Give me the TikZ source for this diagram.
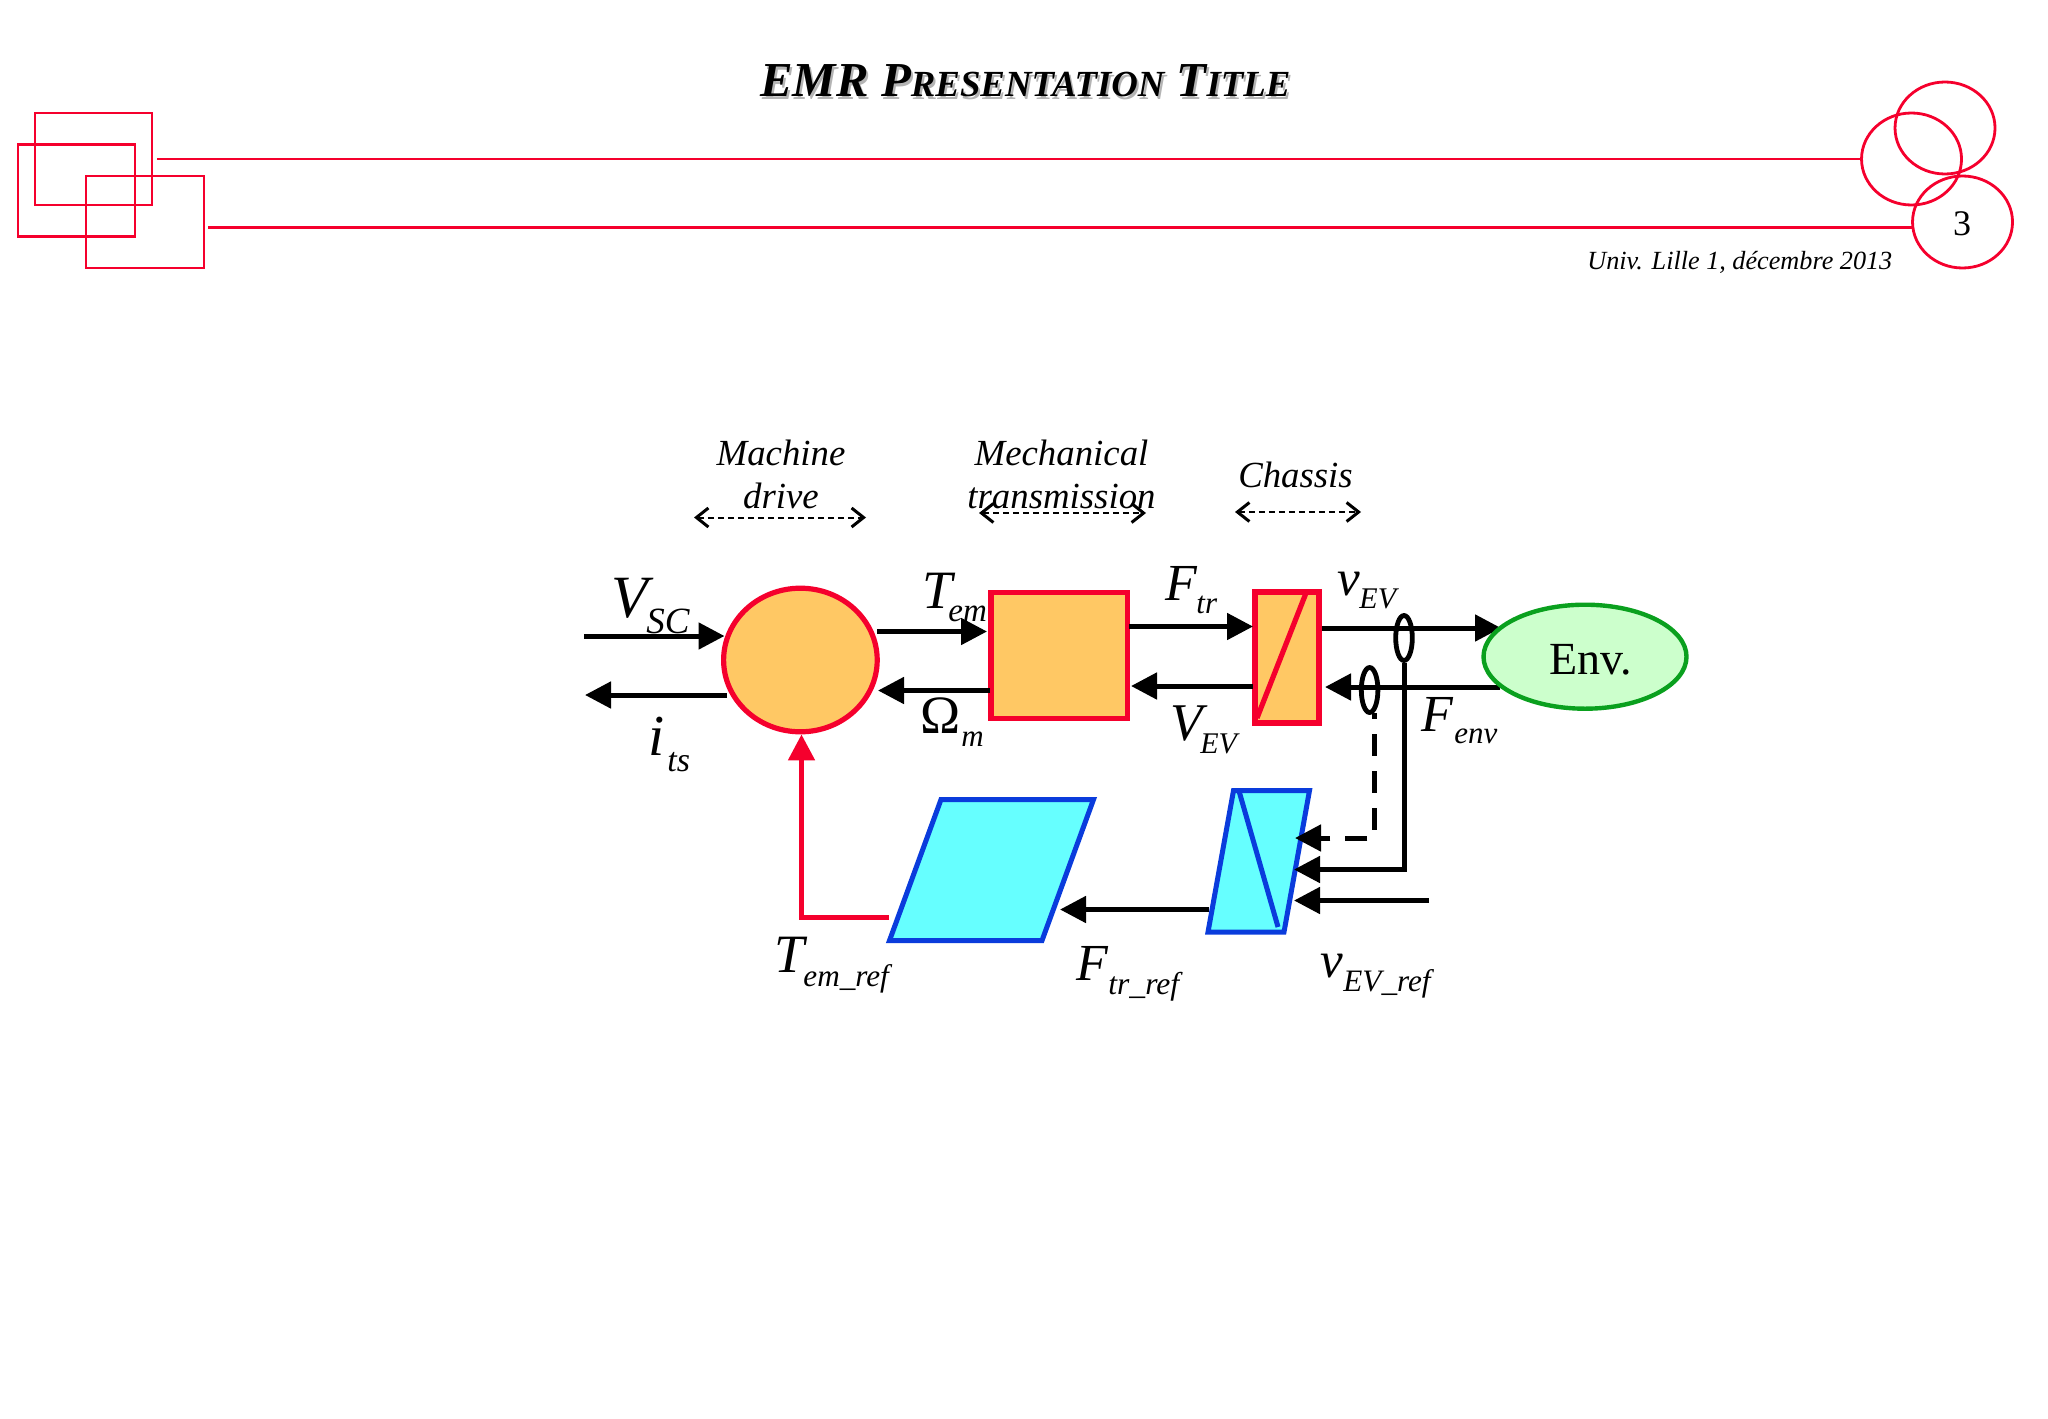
\documentclass[tikz,border=0pt]{standalone}
\usepackage{fontspec}
\setmainfont{Liberation Serif}
\usetikzlibrary{arrows.meta,shapes.geometric}
\definecolor{emrred}{HTML}{F5002D}
\definecolor{emrorange}{HTML}{FFC864}
\definecolor{emrblue}{HTML}{0A3CDC}
\definecolor{emrcyan}{HTML}{66FFFF}
\definecolor{emrgreen}{HTML}{0AA01E}
\definecolor{emrlight}{HTML}{CCFFCC}
\definecolor{emrshadow}{HTML}{B4B4B4}
\tikzset{
  frameline/.style={draw=emrred,line width=1.4pt},
  powerblock/.style={draw=emrred,fill=emrorange,line width=2.6pt,inner sep=0pt},
  ctrlblock/.style={draw=emrblue,fill=emrcyan,line width=2.5pt,line join=miter},
  flow/.style={draw=black,line width=2.5pt,-{Triangle[length=13pt,width=13pt]}},
  redflow/.style={draw=emrred,line width=2.5pt,-{Triangle[length=13pt,width=13pt]}},
  spanarrow/.style={draw=black,line width=1pt,dash pattern=on 3pt off 2pt,{Straight Barb[length=6pt,width=9.5pt,line width=1.5pt]}-{Straight Barb[length=6pt,width=9.5pt,line width=1.5pt]}},
  sensor/.style={draw=black,line width=2.4pt,ellipse,inner sep=0pt,minimum width=8.3pt,minimum height=22.5pt},
  lbl/.style={inner sep=0pt,anchor=base west},
  capt/.style={inner sep=0pt,anchor=base,font=\fontsize{18.4pt}{20pt}\selectfont\itshape},
}
% name, x, y, big size (pt), big text, sub size (pt), sub text, sub dx (pt), sub drop (pt)
\newcommand\sublab[9]{\node[lbl] (#1) at (#2,#3) {\itshape\fontsize{#4pt}{#4pt}\selectfont\rlap{#5}\hspace*{#8pt}\raisebox{-#9pt}{\fontsize{#6pt}{#6pt}\selectfont #7}};}
\newcommand\emrtitle{\itshape\bfseries\fontsize{24.4pt}{24pt}\selectfont EMR P{\fontsize{18.4pt}{18pt}\selectfont RESENTATION} T{\fontsize{18.4pt}{18pt}\selectfont ITLE}}
\begin{document}
\begin{tikzpicture}[x=.5pt,y=-.5pt]
\useasboundingbox (0,0) rectangle (2048,1418);
% --- page frame
\node[frameline,rectangle,inner sep=0pt,minimum width=58.5pt,minimum height=46pt] (ra) at (93.5,159) {};
\node[frameline,rectangle,inner sep=0pt,minimum width=58.5pt,minimum height=46pt] (rb) at (76.5,190.5) {};
\node[frameline,rectangle,inner sep=0pt,minimum width=59pt,minimum height=46pt] (rc) at (145,222) {};
\node[frameline,ellipse,inner sep=0pt,minimum width=50pt,minimum height=46pt] (ca) at (1945,128) {};
\node[frameline,ellipse,inner sep=0pt,minimum width=50pt,minimum height=46pt] (cb) at (1911.5,159) {};
\node[frameline,ellipse,inner sep=0pt,minimum width=50pt,minimum height=46pt] (cc) at (1962.5,222) {};
\coordinate (l1s) at (157,159);
\coordinate (l2s) at (208,227.5);
\draw[frameline] (l1s) -- (cb.west |- l1s);
\draw[frameline] (l2s) -- (1912,227.5);
\node[inner sep=0pt,font=\fontsize{18pt}{18pt}\selectfont] (pagenum) at (1962,224) {3};
\node[lbl,font=\fontsize{13.1pt}{13pt}\selectfont\itshape] (univ) at (1587,269) {Univ. Lille 1, décembre 2013};
\node[lbl,text=emrshadow] (titleshadow) at (762,99) {\emrtitle};
\node[lbl] (title) at (760,97) {\emrtitle};
% --- captions
\node[capt] (cap1) at (781,465) {Machine};
\node[capt] (cap2) at (781,508) {drive};
\node[capt] (cap3) at (1061.5,465) {Mechanical};
\node[capt] (cap4) at (1061.5,508) {transmission};
\node[capt] (cap5) at (1295.5,487) {Chassis};
\coordinate (d1a) at (694,517.5); \coordinate (d1b) at (866,517.5);
\coordinate (d2a) at (979,513);   \coordinate (d2b) at (1146,513);
\coordinate (d3a) at (1235,512);  \coordinate (d3b) at (1361,512);
\draw[spanarrow] (d1a) -- (d1b);
\draw[spanarrow] (d2a) -- (d2b);
\draw[spanarrow] (d3a) -- (d3b);
% --- power blocks
\node[powerblock,ellipse,minimum width=76.8pt,minimum height=71.8pt] (conv) at (800.4,660) {};
\node[powerblock,rectangle,minimum width=68.2pt,minimum height=63.2pt] (trans) at (1059.2,655.4) {};
\node[powerblock,rectangle,minimum width=32pt,minimum height=65.5pt] (chassis) at (1287,657.5) {};
\coordinate (diaga) at (1257,718); \coordinate (diagb) at (1306,593);
\draw[draw=emrred,line width=2.6pt] (diaga) -- (diagb);
% --- power flows
\coordinate (a1s) at (584,636);  \coordinate (a1e) at (724.5,636);
\coordinate (a2s) at (727,695);  \coordinate (a2e) at (585,695);
\coordinate (a3s) at (877,631.5);\coordinate (a3e) at (987,631.5);
\coordinate (a4s) at (990,690.5);\coordinate (a4e) at (878,690.5);
\coordinate (a5s) at (1129,626.5);\coordinate (a5e) at (1253,626.5);
\coordinate (a6s) at (1253,686);\coordinate (a6e) at (1131,686);
\coordinate (a7s) at (1322,628);\coordinate (a7e) at (1501,628);
\coordinate (a8s) at (1500,687);\coordinate (a8e) at (1325,687);
\draw[flow] (a1s) -- (a1e);
\draw[flow] (a2s) -- (a2e);
\draw[flow] (a3s) -- (a3e);
\draw[flow] (a4s) -- (a4e);
\draw[flow] (a5s) -- (a5e);
\draw[flow] (a6s) -- (a6e);
\draw[flow] (a7s) -- (a7e);
\draw[flow] (a8s) -- (a8e);
% --- environment
\node[draw=emrgreen,fill=emrlight,line width=2.2pt,ellipse,inner sep=0pt,minimum width=101.5pt,minimum height=52pt] (env) at (1585,656.7) {};
\node[lbl,font=\fontsize{23pt}{23pt}\selectfont] (envtext) at (1549,674) {Env.};
% --- sensors
\node[sensor] (s1) at (1404,638) {};
\node[sensor] (s2) at (1369.6,690) {};
% --- control blocks
\coordinate (ptl) at (941,799.5); \coordinate (ptr) at (1093.5,799.5);
\coordinate (pbr) at (1042,940.5); \coordinate (pbl) at (889.5,940.5);
\draw[ctrlblock] (ptl) -- (ptr) -- (pbr) -- (pbl) -- cycle;
\coordinate (stl) at (1233.5,790.5); \coordinate (str) at (1309.5,790.5);
\coordinate (sbr) at (1284,932); \coordinate (sbl) at (1208,932);
\draw[ctrlblock] (stl) -- (str) -- (sbr) -- (sbl) -- cycle;
\coordinate (sda) at (1239,791); \coordinate (sdb) at (1278,927);
\draw[draw=emrblue,line width=2.5pt] (sda) -- (sdb);
% --- control flows
\coordinate (b1s) at (1209,909.5); \coordinate (b1e) at (1060,909.5);
\draw[flow] (b1s) -- (b1e);
\coordinate (b2c) at (1404,869.5); \coordinate (b2e) at (1294,869.5);
\draw[flow] (s1.south) -- (b2c) -- (b2e);
\coordinate (b3s) at (1374.3,713); \coordinate (b3c) at (1374.3,838); \coordinate (b3e) at (1295,838);
\draw[flow,dash pattern=on 11pt off 7.5pt,dash phase=8pt] (b3s) -- (b3c) -- (b3e);
\coordinate (b4s) at (1429,900.5); \coordinate (b4e) at (1294,900.5);
\draw[flow] (b4s) -- (b4e);
\coordinate (r1s) at (889,917); \coordinate (r1c) at (801.5,917);
\draw[redflow] (r1s) -- (r1c) -- (conv.south -| r1c);
% --- variable labels
\sublab{vsc}{611}{617}{30}{V}{18.5}{SC}{17.5}{8}
\sublab{its}{648}{755}{29}{i}{17}{ts}{9.5}{8}
\sublab{tem}{922}{608}{27}{T}{16.5}{em}{13}{6.5}
\sublab{om}{920}{733}{27}{\upshape Ω}{15.5}{m}{20.5}{6.5}
\sublab{ftr}{1165}{600}{26}{F}{15.5}{tr}{15.5}{6.5}
\sublab{vev}{1170}{740}{26.5}{V}{15}{EV}{15}{6.5}
\sublab{vup}{1337}{595}{25.5}{v}{15}{EV}{11}{6.5}
\sublab{fenv}{1421}{731}{26}{F}{15.5}{env}{16.5}{6}
\sublab{vref}{1320}{977}{25.5}{v}{15.6}{EV\_ref}{11.5}{7}
\sublab{tref}{774}{972}{27}{T}{15.6}{em\_ref}{14.5}{7}
\sublab{fref}{1076}{980}{26}{F}{15.8}{tr\_ref}{16}{7}
\end{tikzpicture}
\end{document}
